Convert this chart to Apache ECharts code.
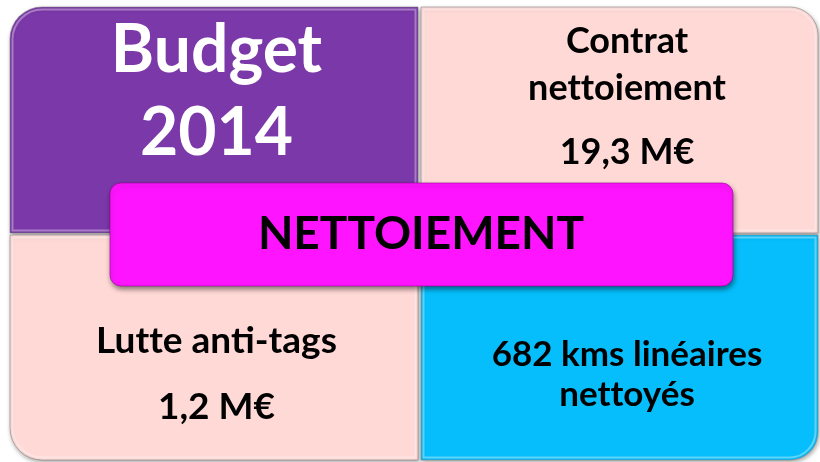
<!DOCTYPE html>
<html>
<head>
<meta charset="utf-8">
<script src="https://cdn.jsdelivr.net/npm/echarts@6/dist/echarts.min.js"></script>
<style>
html,body{margin:0;padding:0;background:#fff;}
#main{width:820px;height:462px;}
</style>
</head>
<body>
<div id="main"></div>
<script>
// ---- Data ----
const columns = ['gauche', 'droite'];
const rows = ['haut', 'bas'];
const cellLines = [
  ['Budget', '2014'],
  ['Contrat', 'nettoiement', '19,3 M€'],
  ['Lutte anti-tags', '1,2 M€'],
  ['682 kms linéaires', 'nettoyés']
];
const centerTitle = ['NETTOIEMENT'];

// ---- Styles ----
const FONT = 'Lato, "Open Sans", sans-serif';
const cellStyle = [
  { fill: '#7B38A8', color: '#ffffff', size: 66, lineY: [44, 127], corner: [32, 0, 0, 0] },
  { fill: '#FFD9D6', color: '#000000', size: 36, lineY: [34, 81, 145], corner: [0, 28, 0, 0] },
  { fill: '#FFD9D6', color: '#000000', size: 37, lineY: [108, 174], corner: [0, 0, 0, 32] },
  { fill: '#06BEFB', color: '#000000', size: 35, lineY: [121, 161], corner: [0, 0, 28, 0] }
];
const colShift = [5, 10];
const dividerShift = 5;
// avoid the "tt" ligature of the font (display only)
const noLig = t => t.replace(/t(?=t)/g, 't\u200C');

const data = [];
rows.forEach((r, ri) => columns.forEach((c, ci) => data.push([ci, ri, ri * columns.length + ci])));

const chart = echarts.init(document.getElementById('main'));
chart.setOption({
  backgroundColor: '#ffffff',
  animation: false,
  grid: { left: 10, right: 2, top: 7, bottom: 2 },
  xAxis: { type: 'category', data: columns, show: false },
  yAxis: { type: 'category', data: rows, show: false, inverse: true },
  series: [{
    type: 'custom',
    data: data,
    z: 1,
    renderItem: function (params, api) {
      const ci = api.value(0), ri = api.value(1), idx = api.value(2);
      const c = api.coord([ci, ri]);
      const s = api.size([1, 1]);
      let x0 = c[0] - s[0] / 2, x1 = c[0] + s[0] / 2;
      const y0 = c[1] - s[1] / 2, y1 = c[1] + s[1] / 2;
      if (ci === 0) x1 += dividerShift - 1; else x0 += dividerShift + 2;
      const yy0 = ri === 0 ? y0 : y0 + 1.5;
      const yy1 = ri === 0 ? y1 - 0.5 : y1;
      const st = cellStyle[idx];
      const children = [{
        type: 'rect',
        shape: { x: x0, y: yy0, width: x1 - x0, height: yy1 - yy0, r: st.corner },
        style: {
          fill: st.fill,
          stroke: 'rgba(120,120,120,0.5)', lineWidth: 1,
          shadowColor: 'rgba(0,0,0,0.35)', shadowBlur: 4, shadowOffsetX: 1, shadowOffsetY: 2
        }
      }, {
        type: 'rect',
        shape: { x: x0 + 2.5, y: yy0 + 2.5, width: x1 - x0 - 5, height: yy1 - yy0 - 5,
          r: st.corner.map(v => Math.max(0, v - 2)) },
        style: { fill: 'none', stroke: 'rgba(255,255,255,0.35)', lineWidth: 2 }
      }];
      const cx = (x0 + x1) / 2 + colShift[ci] - dividerShift / 2;
      cellLines[idx].forEach((t, li) => {
        children.push({
          type: 'text',
          style: {
            text: noLig(t), x: cx, y: y0 + st.lineY[li],
            fill: st.color, font: 'bold ' + st.size + 'px ' + FONT,
            align: 'center', verticalAlign: 'middle'
          }
        });
      });
      return { type: 'group', children: children };
    }
  }],
  graphic: [{
    type: 'group',
    z: 100,
    children: [{
      type: 'rect',
      z: 100,
      shape: { x: 110, y: 183, width: 623, height: 103, r: 11 },
      style: {
        fill: '#FF14FF', stroke: 'rgba(150,0,150,0.6)', lineWidth: 1,
        shadowColor: 'rgba(0,0,0,0.45)', shadowBlur: 5, shadowOffsetX: 1, shadowOffsetY: 3
      }
    }, {
      type: 'text',
      z: 101,
      style: {
        text: centerTitle[0], x: 421, y: 234,
        fill: '#000', font: 'bold 46px ' + FONT, align: 'center', verticalAlign: 'middle'
      }
    }]
  }]
});
</script>
</body>
</html>
